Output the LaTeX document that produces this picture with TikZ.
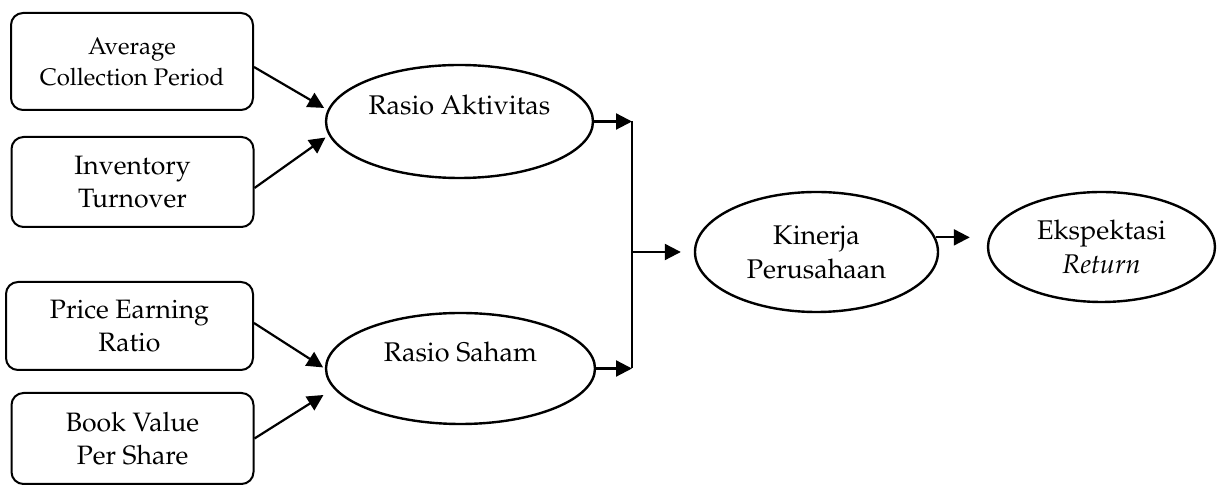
\documentclass[tikz,border=0pt]{standalone}
\usepackage[T1]{fontenc}
\usepackage{mathpazo}
\usetikzlibrary{shapes.geometric,arrows.meta}

\begin{document}
\begin{tikzpicture}[x=0.5pt, y=-0.5pt,
    box/.style={draw, line width=1pt, rounded corners=6pt, align=center, font=\fontsize{13.3}{16.5}\selectfont},
    var/.style={draw, ellipse, line width=1.2pt, inner sep=0pt, align=center, font=\fontsize{13.5}{17}\selectfont},
    arr/.style={line width=1.1pt, -{Triangle[length=8pt, width=8pt]}}]
    \def \bw {121pt} % width of indicator boxes

    \useasboundingbox (0,0) rectangle (1217,485);

    % Indicator boxes
    \node[box, minimum width=\bw, minimum height=48.5pt, font=\fontsize{12}{15.5}\selectfont] (acp) at (132,61.5) {Average\\Collection Period};
    \node[box, minimum width=\bw, minimum height=45pt] (it) at (132.5,182) {Inventory\\Turnover};
    \node[box, minimum width=123.5pt, minimum height=44pt] (per) at (129.5,326) {Price Earning\\Ratio};
    \node[box, minimum width=\bw, minimum height=45.5pt] (bvps) at (132.5,438.5) {Book Value\\Per Share};

    % Variables
    \node[var, minimum width=133.5pt, minimum height=56.5pt] (ra) at (459.5,121.5) {Rasio Aktivitas\\ \mbox{}};
    \node[var, minimum width=134.5pt, minimum height=55.5pt] (rs) at (460.5,368.5) {Rasio Saham\\ \mbox{}};
    \node[var, minimum width=121.5pt, minimum height=60pt] (kp) at (816.5,252) {Kinerja\\Perusahaan};
    \node[var, minimum width=113.5pt, minimum height=55pt] (er) at (1101.5,247) {Ekspektasi\\\textit{Return}};

    % Joint line
    \coordinate (jx) at (632,0);
    \coordinate (jt) at (ra.east -| jx);
    \coordinate (jb) at (rs.east -| jx);
    \coordinate (jm) at (kp.west -| jx);

    % Arrows
    \draw[arr, shorten >=2pt] ([yshift=-2.75pt]acp.east) -- (ra.175);
    \draw[arr, shorten >=2pt] ([yshift=-3pt]it.east) -- (ra.186);
    \draw[arr, shorten >=1pt] ([yshift=1.5pt]per.east) -- (rs.west);
    \draw[arr, shorten >=6pt] (bvps.east) -- (rs.189);
    \draw[arr] (ra.east) -- (jt);
    \draw[arr] (rs.east) -- (jb);
    \draw[line width=0.9pt] (jt) -- (jb);
    \draw[arr, shorten >=6.5pt] (jm) -- (kp.west);
    \draw[arr, shorten >=8.5pt] (kp.7) -- (kp.7 -| er.west);
  \end{tikzpicture}
\end{document}
